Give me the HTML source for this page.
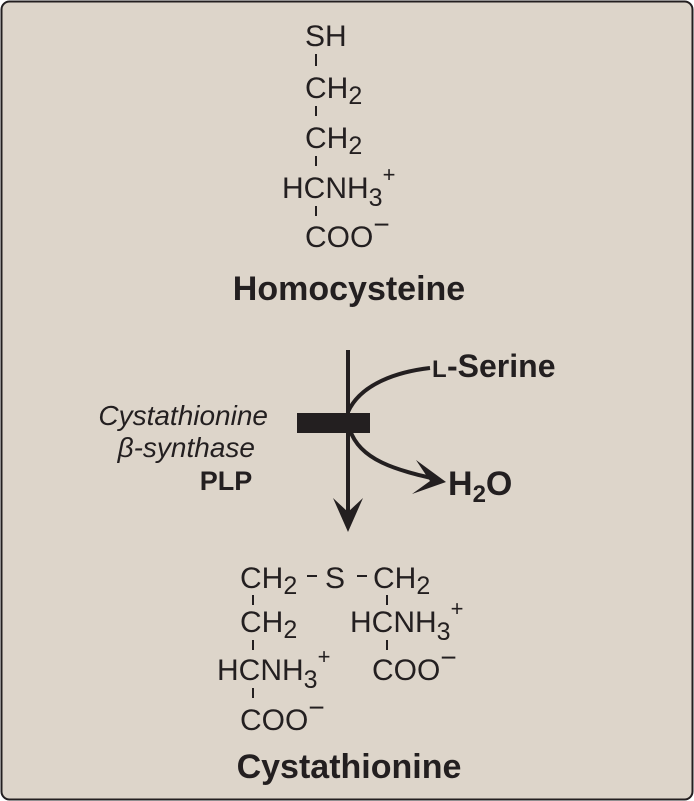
<!DOCTYPE html>
<html><head><meta charset="utf-8"><style>
html,body{margin:0;padding:0;background:#fff}
svg{display:block}
text{font-family:"Liberation Sans",Arial,sans-serif;fill:#231f20}
.f{font-size:30px}
.b{font-size:34px;font-weight:bold}
.i{font-size:28px;font-style:italic}
</style></head><body>
<svg width="694" height="801" viewBox="0 0 694 801">
<rect x="1.5" y="1.5" width="691" height="798" rx="8" fill="#ddd5ca" stroke="#231f20" stroke-width="2"/>
<g stroke="#231f20" stroke-width="2">
<line x1="316" y1="54" x2="316" y2="66"/>
<line x1="316" y1="106" x2="316" y2="116"/>
<line x1="316" y1="156" x2="316" y2="166"/>
<line x1="316" y1="206" x2="316" y2="216"/>
<line x1="253" y1="595" x2="253" y2="605"/>
<line x1="387" y1="595" x2="387" y2="605"/>
<line x1="253" y1="640" x2="253" y2="650"/>
<line x1="387" y1="640" x2="387" y2="650"/>
<line x1="253" y1="688" x2="253" y2="698"/>
<line x1="307" y1="576" x2="317" y2="576"/>
<line x1="357" y1="576" x2="367" y2="576"/>
</g>
<text class="f" x="305" y="46">SH</text>
<text class="f" x="305" y="98">CH<tspan font-size="25" dy="6">2</tspan></text>
<text class="f" x="305" y="148">CH<tspan font-size="25" dy="6">2</tspan></text>
<text class="f" x="282" y="198">HCNH<tspan font-size="25" dy="8">3</tspan><tspan font-size="22" dy="-24">+</tspan></text>
<text class="f" x="305" y="247">COO<tspan font-size="28" dy="-13">−</tspan></text>
<text class="b" x="349" y="300" text-anchor="middle">Homocysteine</text>

<g stroke="#231f20" fill="none" stroke-width="4">
<line x1="348" y1="350" x2="348" y2="526"/>
<path d="M348 412 C360 385 395 372 430 368"/>
<path d="M350 430 C360 460 395 470 440 480"/>
</g>
<path d="M333 498 L348 532 L363 498 L348 512 Z" fill="#231f20"/>
<path d="M416 460 L446 482 L412 494 L430 481 Z" fill="#231f20"/>
<rect x="297" y="413" width="73" height="20" fill="#231f20"/>
<text x="432" y="377" font-size="24" font-weight="bold">L</text>
<text x="447" y="377" font-size="32" font-weight="bold">-Serine</text>
<text class="b" x="448" y="495">H<tspan font-size="24" dy="7">2</tspan><tspan dy="-7">O</tspan></text>
<text class="i" x="268" y="425" text-anchor="end">Cystathionine</text>
<text class="i" x="255" y="457" text-anchor="end">β-synthase</text>
<text x="226" y="490" text-anchor="middle" font-size="27" font-weight="bold">PLP</text>

<text class="f" x="240" y="588">CH<tspan font-size="25" dy="6">2</tspan></text>
<text class="f" x="325" y="588">S</text>
<text class="f" x="373" y="588">CH<tspan font-size="25" dy="6">2</tspan></text>
<text class="f" x="240" y="632">CH<tspan font-size="25" dy="6">2</tspan></text>
<text class="f" x="350" y="632">HCNH<tspan font-size="25" dy="8">3</tspan><tspan font-size="22" dy="-24">+</tspan></text>
<text class="f" x="217" y="680">HCNH<tspan font-size="25" dy="8">3</tspan><tspan font-size="22" dy="-24">+</tspan></text>
<text class="f" x="372" y="680">COO<tspan font-size="28" dy="-13">−</tspan></text>
<text class="f" x="240" y="730">COO<tspan font-size="28" dy="-13">−</tspan></text>
<text class="b" x="349" y="778" text-anchor="middle">Cystathionine</text>
</svg>
</body></html>
